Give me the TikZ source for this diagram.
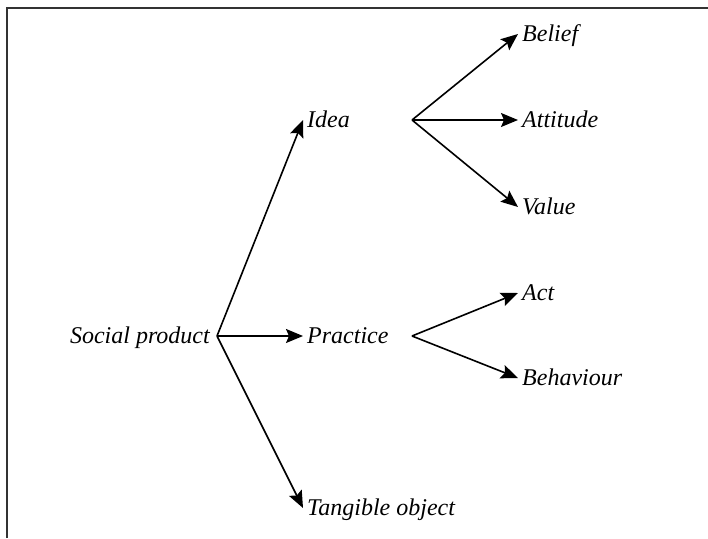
\documentclass[tikz,border=0pt]{standalone}
\usepackage{fontspec}
\setmainfont{Liberation Serif}
\usetikzlibrary{positioning,arrows.meta}

\begin{document}
\begin{tikzpicture}[x=1pt, y=-1pt, node distance=86pt,
    lbl/.style={inner xsep=4pt, inner ysep=0pt, text height=17pt, text depth=3pt,
      font=\fontsize{24}{28}\selectfont\itshape},
    arr/.style={line width=1.6pt, -{Stealth[length=17pt, width=14pt, inset=3pt]}}]

\useasboundingbox (0,0) rectangle (708,538);

% Frame
\draw[line width=1.5pt, black!80] (7,538) -- (7,8) -- (708,8);

% Root node
\node[lbl, anchor=east] (social) at (214,336) {Social product};
\coordinate (fork) at (217,336);

% First level
\node[lbl, right=of fork, yshift=216pt] (idea) {Idea};
\node[lbl, right=of fork] (practice) {Practice};
\node[lbl, right=of fork, yshift=-172pt] (tangible) {Tangible object};

% Forks of the first level
\coordinate (ideafork) at (412,120);
\coordinate (practicefork) at (412,336);

% Second level
\node[lbl, right=106pt of ideafork, yshift=86pt] (belief) {Belief};
\node[lbl, right=106pt of ideafork] (attitude) {Attitude};
\node[lbl, right=106pt of ideafork, yshift=-87pt] (value) {Value};
\node[lbl, right=106pt of practicefork, yshift=43pt] (act) {Act};
\node[lbl, right=106pt of practicefork, yshift=-42pt] (behaviour) {Behaviour};

% Connections
\foreach \i in {idea,practice,tangible}
    \draw[arr] (fork) -- (\i.west);
\foreach \i in {belief,attitude,value}
    \draw[arr] (ideafork) -- (\i.west);
\foreach \i in {act,behaviour}
    \draw[arr] (practicefork) -- (\i.west);
\end{tikzpicture}
\end{document}
